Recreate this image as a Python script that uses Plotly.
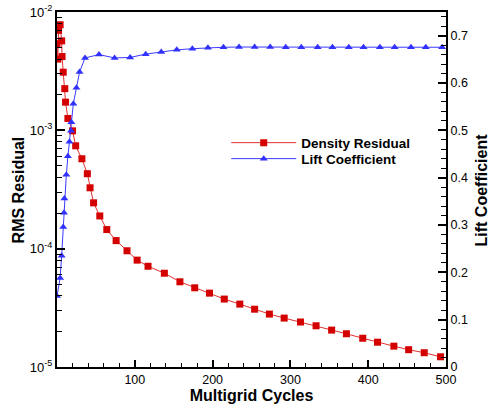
import plotly.graph_objects as go

# Density residual (left log axis)
res_cycles = [0, 1, 2, 4, 6, 6.5, 8, 10, 11, 14, 20, 24, 32, 39, 42.5, 47, 55, 64, 76, 90, 103,
              117, 138, 158, 177, 196, 215, 235, 254, 273, 292, 313, 333, 353, 372, 393, 412, 433, 452, 472, 493]
res_values = [5.4e-3, 4.0e-3, 7.0e-3, 7.8e-3, 5.7e-3, 4.2e-3, 3.1e-3, 2.25e-3, 1.73e-3, 1.26e-3, 9.9e-4,
              7.4e-4, 5.75e-4, 4.3e-4, 3.27e-4, 2.44e-4, 1.89e-4, 1.45e-4, 1.17e-4, 9.6e-5, 8.0e-5,
              7.1e-5, 6.2e-5, 5.25e-5, 4.67e-5, 4.21e-5, 3.75e-5, 3.40e-5, 3.08e-5, 2.80e-5, 2.59e-5,
              2.40e-5, 2.23e-5, 2.05e-5, 1.91e-5, 1.75e-5, 1.62e-5, 1.50e-5, 1.40e-5, 1.32e-5, 1.22e-5]

# Lift coefficient (right axis)
cl_cycles = [0, 4, 6, 8, 9, 9.5, 12, 14, 16, 18, 18.5, 21, 25, 29, 36, 54, 74, 94, 114, 134, 154, 174,
             194, 214, 234, 254, 274, 294, 314, 335, 354, 375, 394, 415, 434, 455, 474, 495]
cl_values = [0.150, 0.188, 0.235, 0.296, 0.326, 0.356, 0.406, 0.445, 0.476, 0.499, 0.517, 0.556, 0.590,
             0.623, 0.653, 0.660, 0.653, 0.654, 0.661, 0.6655, 0.670, 0.6725, 0.6746, 0.6755, 0.676,
             0.676, 0.676, 0.6755, 0.6755, 0.6755, 0.6755, 0.6755, 0.6755, 0.6755, 0.6755, 0.6755, 0.6755, 0.6755]

x_tickvals = [100, 200, 300, 400, 500]
res_tickvals = [1e-5, 1e-4, 1e-3, 1e-2]
res_ticktext = ["10<sup>-5</sup>", "10<sup>-4</sup>", "10<sup>-3</sup>", "10<sup>-2</sup>"]
cl_tickvals = [0, 0.1, 0.2, 0.3, 0.4, 0.5, 0.6, 0.7]
cl_ticktext = ["0", "0.1", "0.2", "0.3", "0.4", "0.5", "0.6", "0.7"]

FONT = "Liberation Sans, Arial, Helvetica, sans-serif"

fig = go.Figure()
fig.add_trace(go.Scatter(
    x=res_cycles, y=res_values, mode="lines+markers", name="<b>Density Residual</b>",
    line=dict(color="#e03030", width=1),
    marker=dict(symbol="square", size=7, color="#d40000"),
    yaxis="y", legend="legend"))
fig.add_trace(go.Scatter(
    x=cl_cycles, y=cl_values, mode="lines+markers", name="<b>Lift Coefficient</b>",
    line=dict(color="#3a3aff", width=1),
    marker=dict(symbol="triangle-up", size=7, color="#3030ff"),
    yaxis="y2", legend="legend2"))

legend_common = dict(xanchor="left", yanchor="top", bgcolor="rgba(0,0,0,0)",
                     font=dict(size=13.5, family=FONT), itemwidth=65)

fig.update_layout(
    width=493, height=407,
    margin=dict(l=57, r=47, t=12, b=40),
    paper_bgcolor="white", plot_bgcolor="white",
    font=dict(family=FONT, size=13, color="black"),
    showlegend=True,
    legend=dict(x=0.435, y=0.675, **legend_common),
    legend2=dict(x=0.435, y=0.630, **legend_common),
    xaxis=dict(range=[0, 500], tickmode="array", tickvals=x_tickvals,
               ticks="inside", ticklen=7, tickwidth=2, tickcolor="black",
               tickfont=dict(size=12.5),
               showline=True, linewidth=2, linecolor="black", mirror=True,
               showgrid=False, zeroline=False,
               minor=dict(tickmode="linear", tick0=0, dtick=20, ticks="inside", ticklen=4,
                          tickwidth=1, tickcolor="black", showgrid=False),
               title=dict(text="<b>Multigrid Cycles</b>", font=dict(size=16), standoff=2),
               automargin=False),
    yaxis=dict(type="log", range=[-5, -2], tickmode="array", tickvals=res_tickvals,
               ticktext=res_ticktext,
               ticks="inside", ticklen=8, tickwidth=2, tickcolor="black",
               showline=True, linewidth=2, linecolor="black",
               showgrid=False, zeroline=False,
               minor=dict(dtick="D1", ticks="inside", ticklen=5, tickwidth=1,
                          tickcolor="black", showgrid=False),
               automargin=False),
    yaxis2=dict(overlaying="y", side="right", range=[0, 0.75], tickmode="array",
                tickvals=cl_tickvals, ticktext=cl_ticktext,
                ticks="inside", ticklen=8, tickwidth=2, tickcolor="black",
                tickfont=dict(size=12.5),
                showline=True, linewidth=2, linecolor="black",
                showgrid=False, zeroline=False,
                minor=dict(tickmode="linear", tick0=0, dtick=0.02, ticks="inside", ticklen=5,
                           tickwidth=1, tickcolor="black", showgrid=False),
                automargin=False),
    annotations=[
        dict(text="<b>RMS Residual</b>", xref="paper", yref="paper", x=-0.098, y=0.5,
             xanchor="center", yanchor="middle", textangle=-90, showarrow=False,
             font=dict(size=16, family=FONT)),
        dict(text="<b>Lift Coefficient</b>", xref="paper", yref="paper", x=1.0925, y=0.5,
             xanchor="center", yanchor="middle", textangle=-90, showarrow=False,
             font=dict(size=16, family=FONT)),
    ],
)

fig.write_html("out.html")
